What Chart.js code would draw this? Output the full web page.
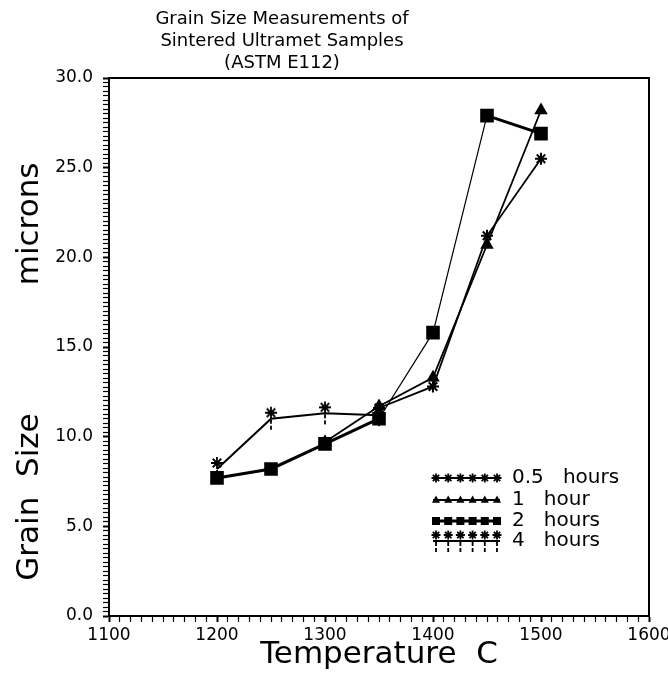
<!DOCTYPE html>
<html>
<head>
<meta charset="utf-8">
<title>Grain Size Measurements</title>
<script src="https://cdn.jsdelivr.net/npm/chart.js@4.4.1/dist/chart.umd.min.js"></script>
<style>
html, body { margin: 0; padding: 0; background: #fff; }
canvas { display: block; }
</style>
</head>
<body>
<canvas id="chart" width="668" height="685"></canvas>
<script>
// values (temperature in C, grain size in microns)
const temps = [1200, 1250, 1300, 1350, 1400, 1450, 1500];
const halfHour = [null, null, null, 11.6, 12.8, 21.2, 25.5];
const oneHour = [null, null, 9.7, 11.7, 13.3, 20.7, 28.2];
const twoHours = [7.7, 8.2, 9.6, 11.0, 15.8, 27.9, 26.9];
const fourHours = [8.2, 11.0, 11.3, 11.2, null, null, null];
const seriesNames = ['0.5   hours', '1   hour', '2   hours', '4   hours'];
const titleLines = ['Grain Size Measurements of', 'Sintered Ultramet Samples', '(ASTM E112)'];
const xTitle = 'Temperature  C';
const yTitle = 'Grain  Size             microns     ';

const FONT = "'DejaVu Sans', sans-serif";

function star(g, x, y, r) {
  g.lineWidth = 1.8;
  g.beginPath();
  for (let k = 0; k < 4; k++) {
    const a = k * Math.PI / 4;
    g.moveTo(x - r * Math.cos(a), y - r * Math.sin(a));
    g.lineTo(x + r * Math.cos(a), y + r * Math.sin(a));
  }
  g.stroke();
}
function tri(g, x, y, r) {
  g.beginPath();
  g.moveTo(x, y - r);
  g.lineTo(x + r * 0.9, y + r * 0.6);
  g.lineTo(x - r * 0.9, y + r * 0.6);
  g.closePath();
  g.fill();
}
function square(g, x, y, r) {
  g.fillRect(x - r, y - r, 2 * r, 2 * r);
}
// asterisk sitting above the point with a broken bar hanging below it
function starBar(g, x, y, r) {
  star(g, x, y - 6, r);
  g.lineWidth = 1.8;
  g.beginPath();
  g.moveTo(x, y + 1); g.lineTo(x, y + 5);
  g.moveTo(x, y + 7); g.lineTo(x, y + 11);
  g.stroke();
}

const fourMark = document.createElement('canvas');
fourMark.width = 18; fourMark.height = 30;
(function () {
  const g = fourMark.getContext('2d');
  g.strokeStyle = '#000'; g.fillStyle = '#000';
  starBar(g, 9, 15, 6);
})();

const markers = [star, tri, square, starBar];

function points(vals) {
  return temps.map((t, i) => ({ x: t, y: vals[i] })).filter(p => p.y !== null);
}

const titlePlugin = {
  id: 'plotTitle',
  afterDraw(chart) {
    const ctx = chart.ctx;
    ctx.save();
    ctx.fillStyle = '#000';
    ctx.font = '18px ' + FONT;
    ctx.textAlign = 'center';
    ctx.textBaseline = 'middle';
    titleLines.forEach((t, i) => ctx.fillText(t, 282, 19 + i * 22));
    ctx.restore();
  }
};

const framePlugin = {
  id: 'frame',
  afterDraw(chart) {
    const a = chart.chartArea;
    const ctx = chart.ctx;
    ctx.save();
    ctx.strokeStyle = '#000';
    ctx.lineWidth = 2;
    ctx.strokeRect(a.left, a.top, a.right - a.left, a.bottom - a.top);
    ctx.restore();
  }
};

const keyPlugin = {
  id: 'key',
  afterDraw(chart) {
    const ctx = chart.ctx;
    const rows = [478, 500, 521, 541];
    ctx.save();
    ctx.strokeStyle = '#000';
    ctx.fillStyle = '#000';
    chart.data.datasets.forEach((ds, i) => {
      const y = rows[i];
      ctx.lineWidth = i === 2 ? 3 : 2;
      ctx.beginPath();
      ctx.moveTo(433, y);
      ctx.lineTo(500, y);
      ctx.stroke();
      for (let k = 0; k < 6; k++) {
        markers[i](ctx, 436 + k * 12.2, y, i === 2 ? 4 : 4.5);
      }
      ctx.font = '20px ' + FONT;
      ctx.textBaseline = 'middle';
      ctx.textAlign = 'left';
      ctx.fillText(ds.label, 512, y);
    });
    ctx.restore();
  }
};

const ctx = document.getElementById('chart').getContext('2d');
const myChart = new Chart(ctx, {
  type: 'line',
  data: {
    datasets: [
      { label: seriesNames[0], data: points(halfHour), borderWidth: 1.8,
        pointStyle: 'star', pointRadius: 6, pointBorderWidth: 2 },
      { label: seriesNames[1], data: points(oneHour), borderWidth: 1.8,
        pointStyle: 'triangle', pointRadius: 6 },
      { label: seriesNames[2], data: points(twoHours), borderWidth: 3,
        pointStyle: 'rect', pointRadius: 7.5,
        // steep runs come out thin on the original plot
        segment: { borderWidth: s => (Math.abs(s.p1.parsed.y - s.p0.parsed.y) > 3 ? 1.2 : 3) } },
      { label: seriesNames[3], data: points(fourHours), borderWidth: 2,
        pointStyle: fourMark }
    ].map(d => Object.assign({
      borderColor: '#000', backgroundColor: '#000',
      pointBackgroundColor: '#000', pointBorderColor: '#000',
      tension: 0, fill: false
    }, d))
  },
  options: {
    responsive: false,
    animation: false,
    devicePixelRatio: 1,
    layout: { padding: { top: 78, right: 19, left: 0, bottom: 0 } },
    plugins: {
      legend: { display: false },
      title: { display: false },
      tooltip: { enabled: false }
    },
    scales: {
      x: {
        type: 'linear', min: 1100, max: 1600,
        ticks: {
          stepSize: 10, autoSkip: false, maxRotation: 0, minRotation: 0,
          color: '#000', font: { family: FONT, size: 17 }, padding: 3,
          callback: v => (v % 100 === 0 ? String(v) : '')
        },
        grid: {
          drawOnChartArea: false, drawTicks: true, tickLength: 6, tickColor: '#000',
          tickWidth: c => (c.tick && c.tick.value % 100 === 0 ? 2 : 1.2)
        },
        border: { display: true, color: '#000', width: 2 },
        title: { display: true, text: xTitle, color: '#000',
          font: { family: FONT, size: 31 }, padding: { top: 0, bottom: 11 } },
        afterFit: s => { s.height = 69; s.paddingLeft = 0; s.paddingRight = 0; }
      },
      y: {
        type: 'linear', min: 0, max: 30,
        ticks: {
          stepSize: 0.25, autoSkip: false,
          color: '#000', font: { family: FONT, size: 17 }, padding: 10,
          callback: v => (v % 5 === 0 ? v.toFixed(1) : '')
        },
        grid: {
          drawOnChartArea: false, drawTicks: true, tickLength: 6, tickColor: '#000',
          tickWidth: c => (c.tick && c.tick.value % 5 === 0 ? 2 : 1.2)
        },
        border: { display: true, color: '#000', width: 2 },
        title: { display: true, text: yTitle, color: '#000',
          font: { family: FONT, size: 31 }, padding: { top: 11, bottom: 0 } },
        afterFit: s => { s.width = 109; s.paddingTop = 0; s.paddingBottom = 0; }
      }
    }
  },
  plugins: [titlePlugin, framePlugin, keyPlugin]
});
</script>
</body>
</html>
